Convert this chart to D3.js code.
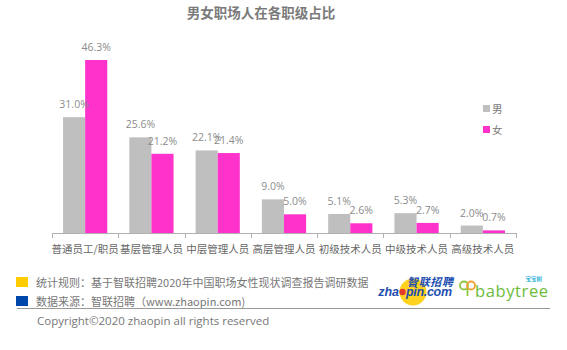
<!DOCTYPE html>
<html>
<head>
<meta charset="utf-8">
<script src="https://cdn.jsdelivr.net/npm/d3@7"></script>
<style>
  html, body { margin: 0; padding: 0; background: #fff; }
  svg { display: block; font-family: "Noto Sans CJK SC", "Open Sans", sans-serif; }
</style>
</head>
<body>
<svg id="chart" width="567" height="350"></svg>
<script>
// Job levels and share of each gender (%)
const categories = ["普通员工/职员", "基层管理人员", "中层管理人员", "高层管理人员", "初级技术人员", "中级技术人员", "高级技术人员"];
const seriesNames = ["男", "女"];
const maleValues = [31.0, 25.6, 22.1, 9.0, 5.1, 5.3, 2.0];
const femaleValues = [46.3, 21.2, 21.4, 5.0, 2.6, 2.7, 0.7];
const seriesColors = ["#bfbfbf", "#ff33cc"];

const svg = d3.select("#chart");

const x0 = d3.scaleBand().domain(categories).range([52, 516]).paddingInner(0.333).paddingOuter(0.1665);
const x1 = d3.scaleBand().domain(seriesNames).range([0, x0.bandwidth()]);
const y = d3.scaleLinear().domain([0, 46.3]).range([233, 60]);

const rows = categories.map((c, i) => ({ cat: c, vals: [maleValues[i], femaleValues[i]] }));

// Title
svg.append("text")
  .attr("x", 261).attr("y", 18)
  .attr("text-anchor", "middle")
  .attr("font-size", 13.5).attr("font-weight", "bold")
  .attr("fill", "#7a7a7a")
  .text("男女职场人在各职级占比");

// Bars and value labels
const groups = svg.append("g").selectAll("g").data(rows).join("g")
  .attr("transform", d => `translate(${x0(d.cat)},0)`);

groups.selectAll("rect").data(d => d.vals.map((v, i) => ({ v, s: seriesNames[i], i })))
  .join("rect")
  .attr("x", d => x1(d.s))
  .attr("y", d => y(d.v))
  .attr("width", x1.bandwidth())
  .attr("height", d => y(0) - y(d.v))
  .attr("fill", d => seriesColors[d.i]);

groups.selectAll("text").data(d => d.vals.map((v, i) => ({ v, s: seriesNames[i], i })))
  .join("text")
  .attr("x", d => x1(d.s) + x1.bandwidth() / 2)
  .attr("y", d => y(d.v) - 9)
  .attr("text-anchor", "middle")
  .attr("font-family", "'Open Sans', sans-serif")
  .attr("font-size", 10.5)
  .attr("fill", "#8c8c8c")
  .text(d => d.v.toFixed(1) + "%");

// Category axis
const tickEdges = categories.map(c => x0(c) - x0.step() * x0.paddingInner() / 2).concat([516]);
const axis = svg.append("g");
axis.append("line").attr("x1", 52).attr("x2", 516).attr("y1", 233.5).attr("y2", 233.5)
  .attr("stroke", "#b0b0b0").attr("stroke-width", 1);
axis.selectAll("line.tick").data(tickEdges).join("line").attr("class", "tick")
  .attr("x1", d => Math.round(d) + 0.5).attr("x2", d => Math.round(d) + 0.5)
  .attr("y1", 233).attr("y2", 238)
  .attr("stroke", "#b0b0b0");
axis.selectAll("text").data(categories).join("text")
  .attr("x", d => x0(d) + x0.bandwidth() / 2)
  .attr("y", 253)
  .attr("text-anchor", "middle")
  .attr("font-size", 10.5)
  .attr("fill", "#666")
  .text(d => d);

// Legend
const legend = svg.append("g").selectAll("g").data(seriesNames).join("g")
  .attr("transform", (d, i) => `translate(483,${105 + i * 21})`);
legend.append("rect").attr("width", 7).attr("height", 7).attr("fill", (d, i) => seriesColors[i]);
legend.append("text").attr("x", 9).attr("y", 7.5).attr("font-size", 10.5).attr("fill", "#777").text(d => d);

// Footer notes
const notes = [
  { color: "#ffcc00", text: "统计规则：基于智联招聘2020年中国职场女性现状调查报告调研数据", y: 277 },
  { color: "#0047ab", text: "数据来源：智联招聘（www.zhaopin.com)", y: 296 }
];
const foot = svg.append("g").selectAll("g").data(notes).join("g");
foot.append("rect").attr("x", 16).attr("y", d => d.y).attr("width", 12).attr("height", 10).attr("fill", d => d.color);
foot.append("text").attr("x", 36).attr("y", d => d.y + 9.5).attr("font-size", 11).attr("fill", "#777").text(d => d.text);

svg.append("line").attr("x1", 17).attr("x2", 550).attr("y1", 308.5).attr("y2", 308.5)
  .attr("stroke", "#999").attr("stroke-width", 1.2);

svg.append("text").attr("x", 37).attr("y", 325)
  .attr("font-family", "'Open Sans', sans-serif")
  .attr("font-size", 11.5).attr("fill", "#777")
  .text("Copyright©2020 zhaopin all rights reserved");

// zhaopin logo
const zp = svg.append("g");
const zpFont = "Arial, 'Liberation Sans', sans-serif";
zp.append("circle").attr("cx", 413).attr("cy", 292).attr("r", 13.5).attr("fill", "#ffd21f");
zp.append("text").attr("x", 399).attr("y", 296).attr("font-family", zpFont)
  .attr("font-size", 12.5).attr("font-weight", "bold").attr("font-style", "italic").attr("fill", "#1e4fb0")
  .attr("text-anchor", "end").text("zha");
zp.append("circle").attr("cx", 402.5).attr("cy", 292).attr("r", 3.2).attr("fill", "#e23b2e");
zp.append("text").attr("x", 406).attr("y", 296).attr("font-family", zpFont)
  .attr("font-size", 12.5).attr("font-weight", "bold").attr("font-style", "italic").attr("fill", "#1e4fb0")
  .attr("textLength", 46).text("pin.com");
zp.append("text").attr("x", 407).attr("y", 285.5).attr("font-size", 11).attr("font-weight", "bold")
  .attr("font-style", "italic").attr("fill", "#1e4fb0").attr("textLength", 46).text("智联招聘");

// babytree logo
const bt = svg.append("g");
bt.append("circle").attr("cx", 464).attr("cy", 285.5).attr("r", 4).attr("fill", "none").attr("stroke", "#8cc63f").attr("stroke-width", 1.8);
bt.append("circle").attr("cx", 471).attr("cy", 285.5).attr("r", 4).attr("fill", "none").attr("stroke", "#f0a030").attr("stroke-width", 1.8);
bt.append("line").attr("x1", 467.5).attr("x2", 467.5).attr("y1", 289).attr("y2", 296).attr("stroke", "#8cc63f").attr("stroke-width", 1.8);
bt.append("text").attr("x", 475).attr("y", 297).attr("font-family", "'Open Sans', sans-serif")
  .attr("font-size", 16.5).attr("fill", "#6dbb3b").attr("textLength", 73).text("babytree");
bt.append("text").attr("x", 542).attr("y", 280.5).attr("text-anchor", "end").attr("font-size", 5.5)
  .attr("font-weight", "bold").attr("fill", "#38b6d8").text("宝宝树");
</script>
</body>
</html>
